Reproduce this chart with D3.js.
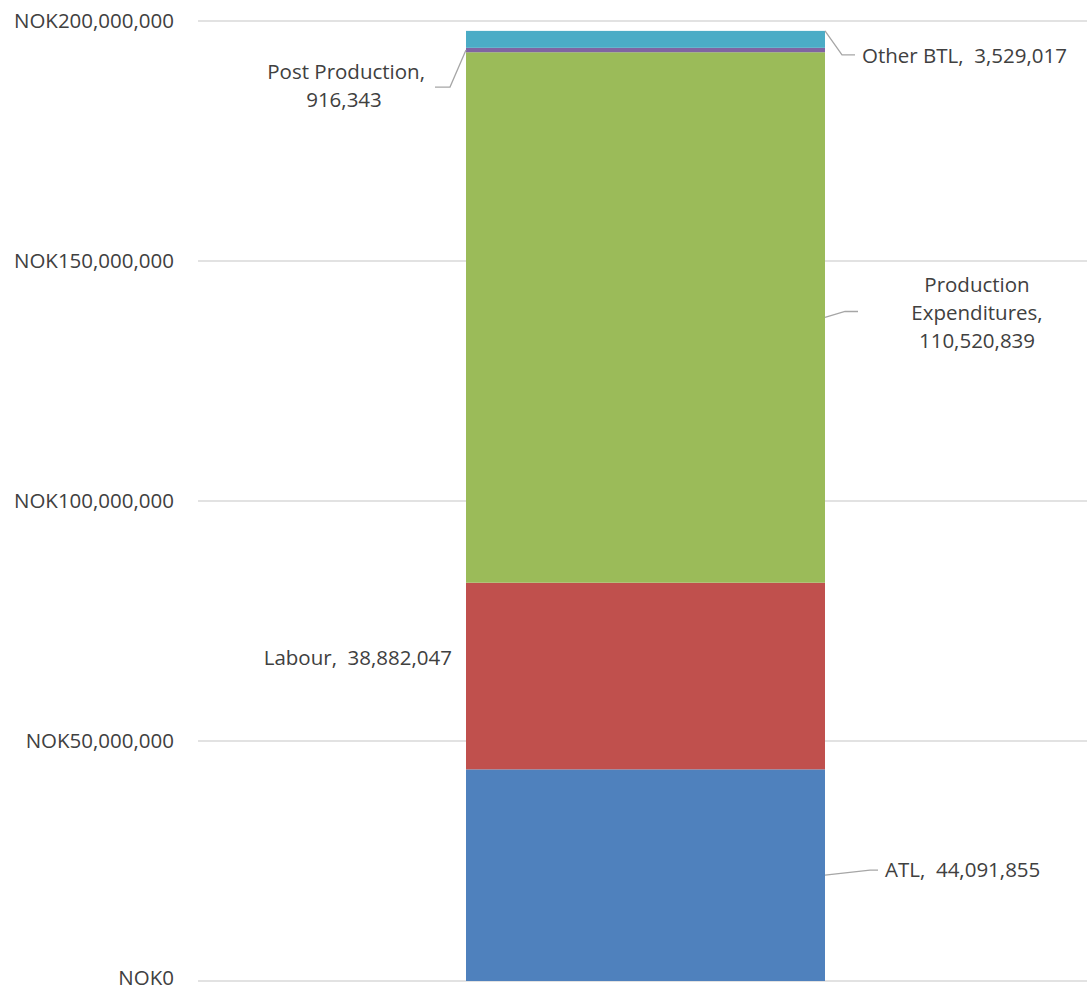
<!DOCTYPE html>
<html>
<head>
<meta charset="utf-8">
<script src="https://cdn.jsdelivr.net/npm/d3@7"></script>
<style>
  body { margin: 0; background: #fff; }
  text { font-family: "Open Sans", "Liberation Sans", sans-serif; fill: #404040; white-space: pre; }
</style>
</head>
<body>
<svg></svg>
<script>
// categories and values, bottom to top
var categories = ["ATL", "Labour", "Production Expenditures", "Post Production", "Other BTL"];
var values = [44091855, 38882047, 110520839, 916343, 3529017];
var colors = ["#4F81BD", "#C0504D", "#9BBB59", "#8064A2", "#4BACC6"];
var tickValues = [0, 50000000, 100000000, 150000000, 200000000];

var width = 1087;
var height = 991;

var svg = d3.select("svg").attr("width", width).attr("height", height);

// y scale: 0 at bottom gridline, 200M at top gridline
var y = d3.scaleLinear().domain([0, 200000000]).range([981, 21]);

// gridlines
svg.append("g")
  .selectAll("line")
  .data(tickValues)
  .enter()
  .append("line")
  .attr("x1", 198)
  .attr("x2", width)
  .attr("y1", d => y(d))
  .attr("y2", d => y(d))
  .attr("stroke", "#d9d9d9")
  .attr("stroke-width", 1.3);

// tick labels
var fmt = d3.format(",");
svg.append("g")
  .selectAll("text")
  .data(tickValues)
  .enter()
  .append("text")
  .attr("x", 174)
  .attr("y", d => Math.min(y(d), 978))
  .attr("dy", "0.35em")
  .attr("text-anchor", "end")
  .style("font-size", "20.5px")
  .text(d => "NOK" + fmt(d));

// stack segments
var stackData = [];
var cum = 0;
for (var i = 0; i < categories.length; i++) {
  stackData.push({ name: categories[i], value: values[i], y0: cum, y1: cum + values[i], color: colors[i] });
  cum += values[i];
}

var bx0 = 466, bx1 = 825;

svg.append("g")
  .selectAll("rect")
  .data(stackData)
  .enter()
  .append("rect")
  .attr("x", bx0)
  .attr("width", bx1 - bx0)
  .attr("y", d => y(d.y1))
  .attr("height", d => y(d.y0) - y(d.y1))
  .attr("fill", d => d.color);

// data labels
var labels = svg.append("g").style("font-size", "20.5px");
var leader = svg.append("g").attr("fill", "none").attr("stroke", "#a6a6a6").attr("stroke-width", 1.3);
function mid(d) { return y((d.y0 + d.y1) / 2); }

// ATL
var atl = stackData[0];
leader.append("polyline").attr("points", [[bx1, mid(atl)], [870, mid(atl) - 5], [878, mid(atl) - 5]].join(" "));
labels.append("text").attr("x", 885).attr("y", mid(atl) - 5).attr("dy", "0.35em")
  .text(atl.name + ",  " + fmt(atl.value));

// Labour (no leader line)
var lab = stackData[1];
labels.append("text").attr("x", 452).attr("y", mid(lab) - 18).attr("dy", "0.35em").attr("text-anchor", "end")
  .text(lab.name + ",  " + fmt(lab.value));

// Production Expenditures
var pe = stackData[2];
leader.append("polyline").attr("points", [[bx1, mid(pe)], [845, mid(pe) - 6], [858, mid(pe) - 6]].join(" "));
var peText = labels.append("text").attr("text-anchor", "middle");
["Production", "Expenditures,", fmt(pe.value)].forEach(function (s, k) {
  peText.append("tspan").attr("x", 977).attr("y", mid(pe) - 33 + k * 28).attr("dy", "0.35em").text(s);
});

// Post Production
var pp = stackData[3];
leader.append("polyline").attr("points", [[bx0, mid(pp)], [450, mid(pp) + 37], [435, mid(pp) + 37]].join(" "));
labels.append("text").attr("x", 425).attr("y", mid(pp) + 22).attr("dy", "0.35em").attr("text-anchor", "end")
  .text(pp.name + ",");
labels.append("text").attr("x", 344).attr("y", mid(pp) + 50).attr("dy", "0.35em").attr("text-anchor", "middle")
  .text(fmt(pp.value));

// Other BTL
var ob = stackData[4];
leader.append("polyline").attr("points", [[bx1, y(ob.y1)], [842, y(ob.y1) + 24], [855, y(ob.y1) + 24]].join(" "));
labels.append("text").attr("x", 862).attr("y", y(ob.y1) + 25).attr("dy", "0.35em")
  .text(ob.name + ",  " + fmt(ob.value));
</script>
</body>
</html>
